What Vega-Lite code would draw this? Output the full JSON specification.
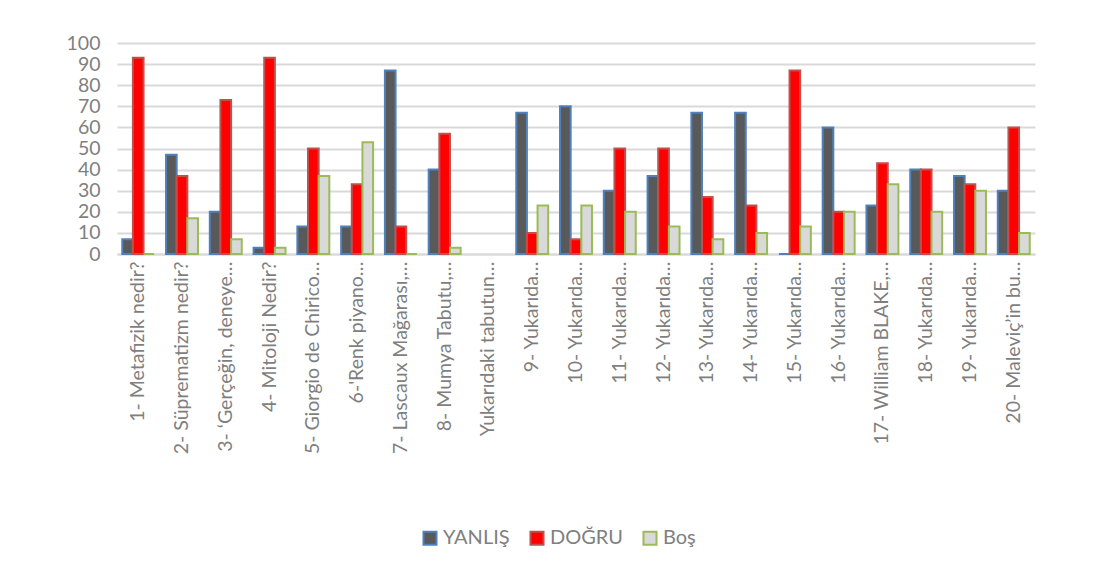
{
  "$schema": "https://vega.github.io/schema/vega-lite/v6.json",
  "autosize": "none",
  "width": 918,
  "height": 211,
  "padding": {"left": 117, "top": 43, "right": 68, "bottom": 324},
  "background": "white",
  "config": {
    "font": "Lato",
    "view": {"stroke": null},
    "axis": {"labelFont": "Lato", "labelColor": "#7f7f7f"}
  },
  "datasets": {
    "answers": [
      {"q": "1- Metafizik nedir?", "series": "YANLIŞ", "value": 7},
      {"q": "1- Metafizik nedir?", "series": "DOĞRU", "value": 93},
      {"q": "1- Metafizik nedir?", "series": "Boş", "value": 0},
      {"q": "2- Süprematizm nedir?", "series": "YANLIŞ", "value": 47},
      {"q": "2- Süprematizm nedir?", "series": "DOĞRU", "value": 37},
      {"q": "2- Süprematizm nedir?", "series": "Boş", "value": 17},
      {"q": "3- ‘Gerçeğin, deneye…", "series": "YANLIŞ", "value": 20},
      {"q": "3- ‘Gerçeğin, deneye…", "series": "DOĞRU", "value": 73},
      {"q": "3- ‘Gerçeğin, deneye…", "series": "Boş", "value": 7},
      {"q": "4- Mitoloji Nedir?", "series": "YANLIŞ", "value": 3},
      {"q": "4- Mitoloji Nedir?", "series": "DOĞRU", "value": 93},
      {"q": "4- Mitoloji Nedir?", "series": "Boş", "value": 3},
      {"q": "5- Giorgio de Chirico…", "series": "YANLIŞ", "value": 13},
      {"q": "5- Giorgio de Chirico…", "series": "DOĞRU", "value": 50},
      {"q": "5- Giorgio de Chirico…", "series": "Boş", "value": 37},
      {"q": "6-'Renk piyano…", "series": "YANLIŞ", "value": 13},
      {"q": "6-'Renk piyano…", "series": "DOĞRU", "value": 33},
      {"q": "6-'Renk piyano…", "series": "Boş", "value": 53},
      {"q": "7- Lascaux Mağarası,…", "series": "YANLIŞ", "value": 87},
      {"q": "7- Lascaux Mağarası,…", "series": "DOĞRU", "value": 13},
      {"q": "7- Lascaux Mağarası,…", "series": "Boş", "value": 0},
      {"q": "8- Mumya Tabutu,…", "series": "YANLIŞ", "value": 40},
      {"q": "8- Mumya Tabutu,…", "series": "DOĞRU", "value": 57},
      {"q": "8- Mumya Tabutu,…", "series": "Boş", "value": 3},
      {"q": "9- Yukarıda…", "series": "YANLIŞ", "value": 67},
      {"q": "9- Yukarıda…", "series": "DOĞRU", "value": 10},
      {"q": "9- Yukarıda…", "series": "Boş", "value": 23},
      {"q": "10- Yukarıda…", "series": "YANLIŞ", "value": 70},
      {"q": "10- Yukarıda…", "series": "DOĞRU", "value": 7},
      {"q": "10- Yukarıda…", "series": "Boş", "value": 23},
      {"q": "11- Yukarıda…", "series": "YANLIŞ", "value": 30},
      {"q": "11- Yukarıda…", "series": "DOĞRU", "value": 50},
      {"q": "11- Yukarıda…", "series": "Boş", "value": 20},
      {"q": "12- Yukarıda…", "series": "YANLIŞ", "value": 37},
      {"q": "12- Yukarıda…", "series": "DOĞRU", "value": 50},
      {"q": "12- Yukarıda…", "series": "Boş", "value": 13},
      {"q": "13- Yukarıda…", "series": "YANLIŞ", "value": 67},
      {"q": "13- Yukarıda…", "series": "DOĞRU", "value": 27},
      {"q": "13- Yukarıda…", "series": "Boş", "value": 7},
      {"q": "14- Yukarıda…", "series": "YANLIŞ", "value": 67},
      {"q": "14- Yukarıda…", "series": "DOĞRU", "value": 23},
      {"q": "14- Yukarıda…", "series": "Boş", "value": 10},
      {"q": "15- Yukarıda…", "series": "YANLIŞ", "value": 0},
      {"q": "15- Yukarıda…", "series": "DOĞRU", "value": 87},
      {"q": "15- Yukarıda…", "series": "Boş", "value": 13},
      {"q": "16- Yukarıda…", "series": "YANLIŞ", "value": 60},
      {"q": "16- Yukarıda…", "series": "DOĞRU", "value": 20},
      {"q": "16- Yukarıda…", "series": "Boş", "value": 20},
      {"q": "17- William BLAKE,…", "series": "YANLIŞ", "value": 23},
      {"q": "17- William BLAKE,…", "series": "DOĞRU", "value": 43},
      {"q": "17- William BLAKE,…", "series": "Boş", "value": 33},
      {"q": "18- Yukarıda…", "series": "YANLIŞ", "value": 40},
      {"q": "18- Yukarıda…", "series": "DOĞRU", "value": 40},
      {"q": "18- Yukarıda…", "series": "Boş", "value": 20},
      {"q": "19- Yukarıda…", "series": "YANLIŞ", "value": 37},
      {"q": "19- Yukarıda…", "series": "DOĞRU", "value": 33},
      {"q": "19- Yukarıda…", "series": "Boş", "value": 30},
      {"q": "20- Maleviç’in bu…", "series": "YANLIŞ", "value": 30},
      {"q": "20- Maleviç’in bu…", "series": "DOĞRU", "value": 60},
      {"q": "20- Maleviç’in bu…", "series": "Boş", "value": 10}
    ]
  },
  "data": {"name": "answers"},
  "mark": {"type": "bar", "strokeWidth": 2},
  "encoding": {
    "x": {
      "field": "q",
      "type": "nominal",
      "sort": null,
      "scale": {
        "domain": ["1- Metafizik nedir?", "2- Süprematizm nedir?", "3- ‘Gerçeğin, deneye…", "4- Mitoloji Nedir?", "5- Giorgio de Chirico…", "6-'Renk piyano…", "7- Lascaux Mağarası,…", "8- Mumya Tabutu,…", "Yukarıdaki tabutun…", "9- Yukarıda…", "10- Yukarıda…", "11- Yukarıda…", "12- Yukarıda…", "13- Yukarıda…", "14- Yukarıda…", "15- Yukarıda…", "16- Yukarıda…", "17- William BLAKE,…", "18- Yukarıda…", "19- Yukarıda…", "20- Maleviç’in bu…"],
        "paddingInner": 0.27,
        "paddingOuter": 0.12
      },
      "axis": {
        "title": null,
        "labelAngle": -90,
        "labelAlign": "right",
        "labelBaseline": "middle",
        "labelFontSize": 19.5,
        "labelPadding": 7,
        "labelLimit": 300,
        "ticks": false,
        "domainColor": "#d9d9d9",
        "domainWidth": 2
      }
    },
    "xOffset": {"field": "series", "type": "nominal", "sort": ["YANLIŞ", "DOĞRU", "Boş"]},
    "y": {
      "field": "value",
      "type": "quantitative",
      "scale": {"domain": [0, 100]},
      "axis": {
        "title": null,
        "values": [0, 10, 20, 30, 40, 50, 60, 70, 80, 90, 100],
        "labelFontSize": 19.5,
        "labelPadding": 17,
        "domain": false,
        "ticks": false,
        "gridColor": "#d9d9d9",
        "gridWidth": 2
      }
    },
    "fill": {
      "field": "series",
      "type": "nominal",
      "sort": ["YANLIŞ", "DOĞRU", "Boş"],
      "scale": {"domain": ["YANLIŞ", "DOĞRU", "Boş"], "range": ["#595959", "#ff0000", "#d9d9d9"]},
      "legend": {
        "title": null,
        "orient": "none",
        "direction": "horizontal",
        "legendX": 303,
        "legendY": 485,
        "symbolType": "square",
        "symbolSize": 170,
        "symbolStrokeWidth": 2,
        "labelFontSize": 20,
        "labelColor": "#7f7f7f",
        "columnPadding": 16,
        "labelOffset": 3
      }
    },
    "stroke": {
      "field": "series",
      "type": "nominal",
      "sort": ["YANLIŞ", "DOĞRU", "Boş"],
      "scale": {"domain": ["YANLIŞ", "DOĞRU", "Boş"], "range": ["#4f81bd", "#c0504d", "#9bbb59"]},
      "legend": null
    }
  }
}
